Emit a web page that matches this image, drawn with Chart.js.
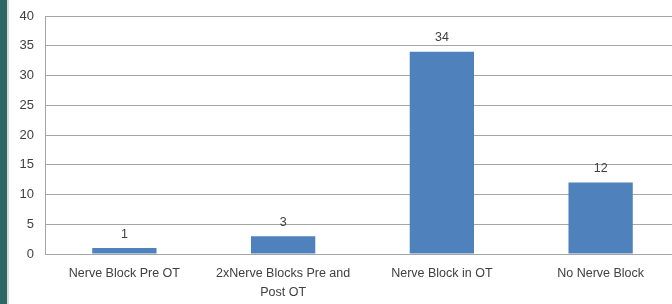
<!DOCTYPE html>
<html><head><meta charset="utf-8">
<script src="https://cdn.jsdelivr.net/npm/chart.js@4"></script>
<style>
html,body{margin:0;padding:0;width:672px;height:304px;overflow:hidden;background:#fff;}
#strip{position:absolute;left:0;top:0;width:7px;height:304px;background:#2b6764;}
#strip2{position:absolute;left:7px;top:0;width:2px;height:304px;background:#d9d9d9;}
#wrap{position:absolute;left:0;top:0;width:680px;height:304px;}
</style></head>
<body>
<div id="wrap"><canvas id="c" width="680" height="304"></canvas></div>
<div id="strip"></div><div id="strip2"></div>
<script>
const categories = ["Nerve Block Pre OT", ["2xNerve Blocks Pre and", "Post OT"], "Nerve Block in OT", "No Nerve Block"];
const values = [1, 3, 34, 12];
const yTicks = [0, 5, 10, 15, 20, 25, 30, 35, 40];

const FONT = "'Liberation Sans', Arial, sans-serif";
const TEXT = "#404040";
const GRID = "#a6a6a6";

const labelPlugin = {
  id: 'barLabels',
  afterDatasetsDraw(chart) {
    const ctx = chart.ctx;
    const meta = chart.getDatasetMeta(0);
    ctx.save();
    ctx.font = "12.5px " + FONT;
    ctx.fillStyle = TEXT;
    ctx.textAlign = 'center';
    ctx.textBaseline = 'middle';
    meta.data.forEach((bar, i) => {
      ctx.fillText(String(values[i]), bar.x, bar.y - 14);
    });
    ctx.restore();
  }
};

new Chart(document.getElementById('c'), {
  type: 'bar',
  data: {
    labels: categories,
    datasets: [{
      data: values,
      backgroundColor: '#4f81bd',
      borderWidth: 0,
      categoryPercentage: 1,
      barPercentage: 0.405
    }]
  },
  options: {
    responsive: false,
    animation: false,
    devicePixelRatio: 1,
    layout: { padding: { left: 10, top: 16, right: 0, bottom: 0 } },
    plugins: { legend: { display: false }, tooltip: { enabled: false } },
    scales: {
      x: {
        afterFit(scale) { scale.height = 50; },
        grid: { display: false, drawTicks: false },
        border: { display: true, color: GRID, width: 1 },
        ticks: { color: TEXT, font: { family: FONT, size: 12.5, lineHeight: 1.5 }, padding: 10, maxRotation: 0, autoSkip: false }
      },
      y: {
        min: 0, max: 40,
        afterBuildTicks(scale) { scale.ticks = yTicks.map(v => ({ value: v })); },
        afterFit(scale) { scale.width = 35; scale.paddingTop = 0; scale.paddingBottom = 0; },
        grid: { color: GRID, drawTicks: false, lineWidth: 1 },
        border: { display: true, color: GRID, width: 1 },
        ticks: { color: TEXT, font: { family: FONT, size: 13, lineHeight: 1 }, padding: 11 }
      }
    }
  },
  plugins: [labelPlugin]
});
</script>
</body></html>
